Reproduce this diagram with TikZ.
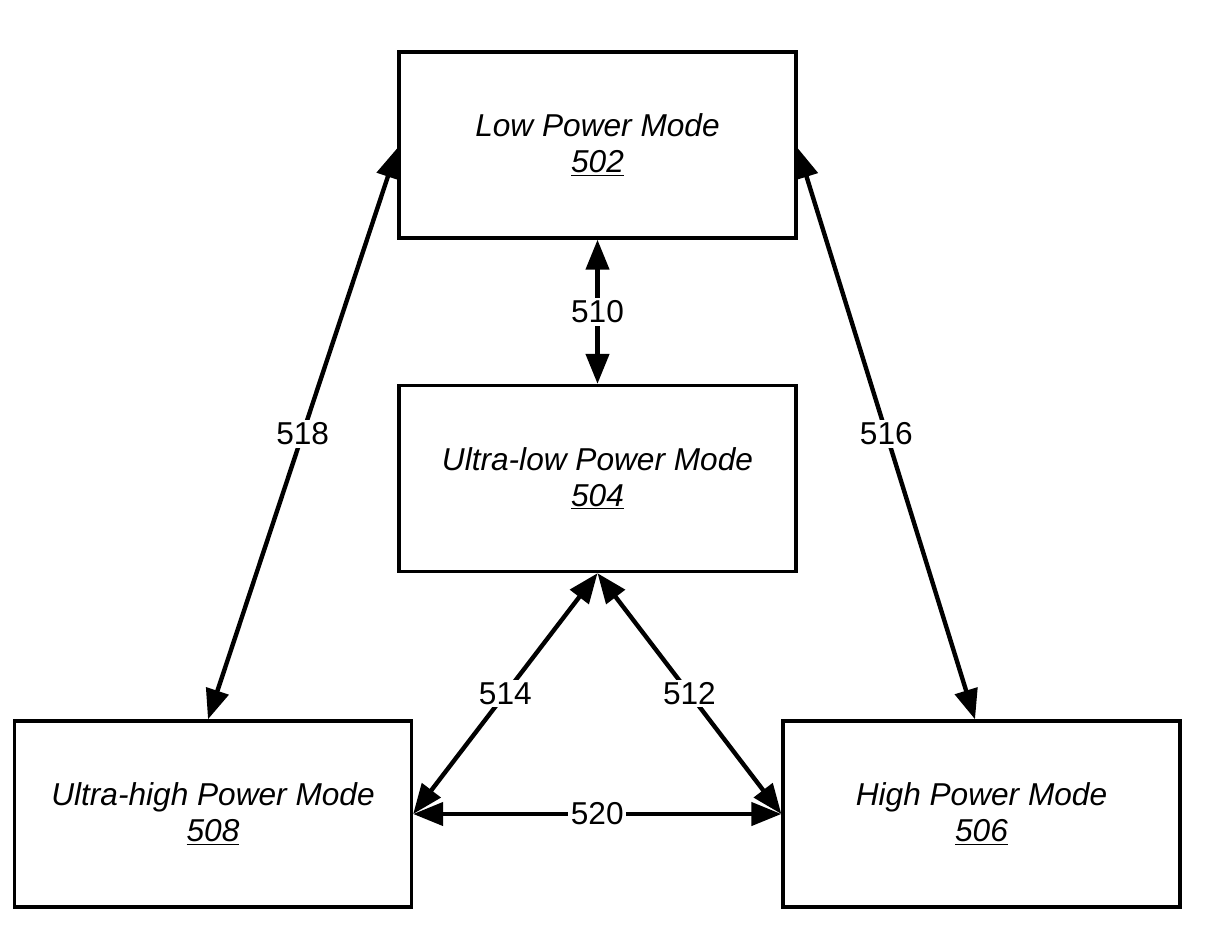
\documentclass[tikz,border=0pt]{standalone}
\usepackage{fontspec}
\setmainfont{Liberation Sans}
\usetikzlibrary{arrows.meta}
\tikzset{
  modebox/.style={draw, line width=1.9pt, minimum width=7.94cm, minimum height=3.72cm,
    align=center, font=\fontsize{18}{20.5}\selectfont\itshape},
  trans/.style={<->, line width=2.5pt},
  tlabel/.style={fill=white, inner sep=1.5pt, font=\fontsize{18}{20}\selectfont}
}
\begin{document}
\begin{tikzpicture}[>={Triangle[length=6mm,width=4.6mm]}]
\useasboundingbox (0,0) rectangle (24.2,-18.84);
\node[modebox] (low) at (11.95,-2.9) {Low Power Mode\\\underline{502}};
\node[modebox] (ultralow) at (11.95,-9.57) {Ultra-low Power Mode\\\underline{504}};
\node[modebox] (ultrahigh) at (4.26,-16.28) {Ultra-high Power Mode\\\underline{508}};
\node[modebox] (high) at (19.63,-16.28) {High Power Mode\\\underline{506}};
\draw[trans] (low) -- node[tlabel] {510} (ultralow);
\draw[trans] ([yshift=-0.06cm]low.west) -- node[tlabel] {518} ([xshift=-0.1cm]ultrahigh.north);
\draw[trans] ([yshift=-0.06cm]low.east) -- node[tlabel] {516} ([xshift=-0.13cm]high.north);
\draw[trans] (ultralow.south) -- node[tlabel] {514} (ultrahigh.east);
\draw[trans] (ultralow.south) -- node[tlabel] {512} (high.west);
\draw[trans] (ultrahigh.east) -- node[tlabel] {520} (high.west);
\end{tikzpicture}
\end{document}
